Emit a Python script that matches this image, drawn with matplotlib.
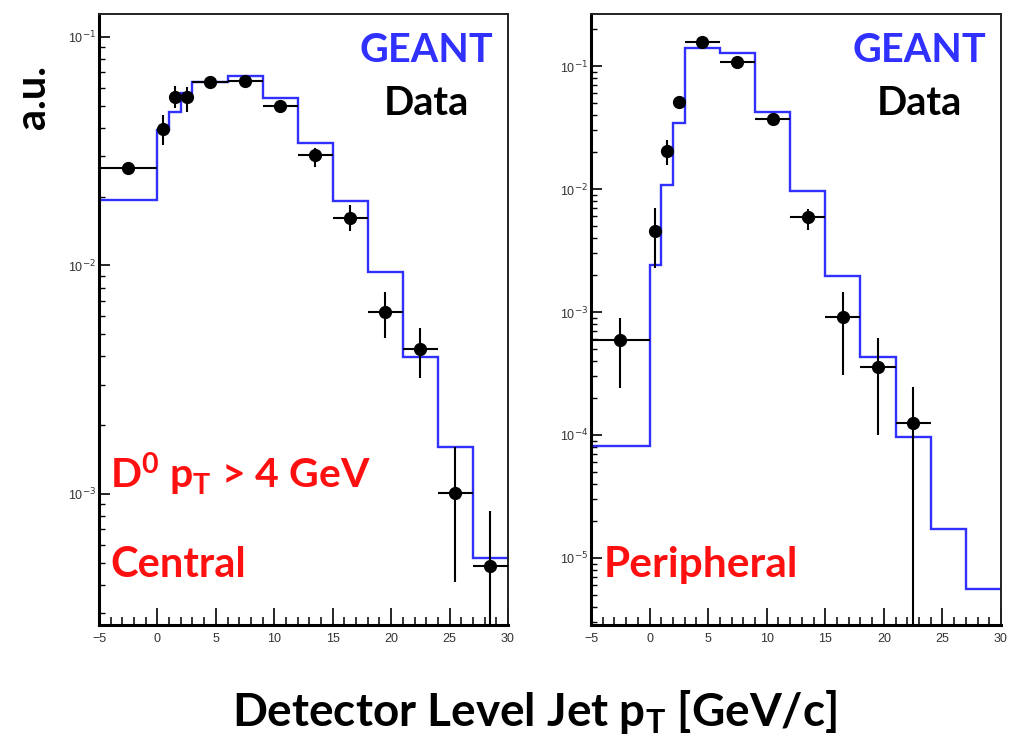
import numpy as np
import matplotlib
matplotlib.use("Agg")
import matplotlib.pyplot as plt
from matplotlib.ticker import FixedLocator, NullFormatter, MultipleLocator

# ---------------- data ----------------
bin_edges = [-5, 0, 1, 2, 3, 6, 9, 12, 15, 18, 21, 24, 27, 30]
data_x = [-2.5, 0.5, 1.5, 2.5, 4.5, 7.5, 10.5, 13.5, 16.5, 19.5, 22.5, 25.5, 28.5]
data_xlo = [2.5, 0.5, 0.5, 0.5, 1.5, 1.5, 1.5, 1.5, 1.5, 1.5, 1.5, 1.5, 1.5]

# Central
central_geant = [0.0194, 0.039, 0.0471, 0.0569, 0.0637, 0.0678, 0.0542, 0.0343,
                 0.0191, 0.00933, 0.00399, 0.0016, 0.000526]
central_data = [0.0266, 0.0394, 0.0548, 0.0548, 0.0634, 0.0644, 0.0499, 0.0303,
                0.0161, 0.00624, 0.00431, 0.00101, 0.000484]
central_hi = [0.0278, 0.0456, 0.0611, 0.0606, 0.0660, 0.0670, 0.0520, 0.0326,
              0.0184, 0.00767, 0.00533, 0.0016, 0.00084]
central_lo = [0.0253, 0.0337, 0.0489, 0.0471, 0.0610, 0.0620, 0.0463, 0.0270,
              0.0141, 0.00482, 0.00322, 0.000413, 0.0]

# Peripheral (last data bin is empty)
periph_geant = [8.19e-5, 0.00241, 0.0108, 0.0346, 0.141, 0.128, 0.0425, 0.00964,
                0.00196, 0.000427, 9.58e-5, 1.72e-5, 5.6e-6]
periph_x = data_x[:11]
periph_xlo = data_xlo[:11]
periph_data = [0.000591, 0.00456, 0.0204, 0.0513, 0.156, 0.107, 0.0371, 0.00596,
               0.000906, 0.000359, 0.000126]
periph_hi = [0.00089, 0.00702, 0.0251, 0.0563, 0.163, 0.112, 0.0388, 0.00694,
             0.00146, 0.00061, 0.000247]
periph_lo = [0.00024, 0.00228, 0.0157, 0.0453, 0.149, 0.102, 0.0355, 0.00464,
             0.000308, 0.0001, 0.0]

x_ticks = [-5, 0, 5, 10, 15, 20, 25, 30]
x_tick_labels = ["\u22125", "0", "5", "10", "15", "20", "25", "30"]

# ---------------- style ----------------
plt.rcParams['font.family'] = ['Lato', 'DejaVu Sans']
plt.rcParams['mathtext.fontset'] = 'custom'
plt.rcParams['mathtext.rm'] = 'Lato:bold'
plt.rcParams['mathtext.it'] = 'Lato:bold'
plt.rcParams['mathtext.bf'] = 'Lato:bold'

BLUE = '#3030ff'
RED = '#ff1010'

fig = plt.figure(figsize=(10.12, 7.4), dpi=100)
axL = fig.add_axes([99/1012, 1-625/740, 409/1012, 611/740])
axR = fig.add_axes([591/1012, 1-625/740, 410/1012, 611/740])


def draw_panel(ax, geant, xs, xlo, vals, hi, lo, ylim, decades):
    ax.set_yscale('log')
    ax.stairs(geant, bin_edges, color=BLUE, lw=1.7, baseline=None, zorder=2)
    vals = np.array(vals)
    hi = np.array(hi)
    lo = np.array(lo)
    lo = np.where(lo <= 0, 1e-9, lo)
    yerr = np.vstack([vals - lo, hi - vals])
    ax.errorbar(xs, vals, xerr=xlo, yerr=yerr, fmt='o', color='black',
                ms=8.5, elinewidth=1.5, capsize=0, zorder=3)
    ax.set_xlim(-5, 30)
    ax.set_ylim(*ylim)
    ax.set_xticks(x_ticks, x_tick_labels, fontsize=9, color='#333333',
                  family='Liberation Sans')
    ax.xaxis.set_minor_locator(MultipleLocator(1))
    ax.yaxis.set_major_locator(FixedLocator([10.0**d for d in decades]))
    ax.set_yticks([10.0**d for d in decades],
                  ["10$^{%d}$" % d for d in decades], fontsize=9,
                  color='#333333', family='Liberation Sans',
                  math_fontfamily='dejavusans')
    minors = [m * 10.0**d for d in range(min(decades) - 1, max(decades) + 1)
              for m in range(2, 10)]
    ax.yaxis.set_minor_locator(FixedLocator(minors))
    ax.yaxis.set_minor_formatter(NullFormatter())
    ax.set_ylim(*ylim)
    ax.tick_params(axis='x', which='major', direction='in', length=12, width=1.2,
                   top=False, pad=6)
    ax.tick_params(axis='x', which='minor', direction='in', length=6, width=1.1,
                   top=False)
    ax.tick_params(axis='y', which='major', direction='in', length=8, width=1.2,
                   right=False, pad=2)
    ax.tick_params(axis='y', which='minor', direction='in', length=4.5, width=1.0,
                   right=False)
    for s in ['left', 'bottom']:
        ax.spines[s].set_linewidth(2.2)
    for s in ['top', 'right']:
        ax.spines[s].set_linewidth(1.4)
        ax.spines[s].set_color('#222222')
    ax.text(0.80, (625-62)/611, 'GEANT', transform=ax.transAxes, color=BLUE,
            fontsize=28.5, fontweight='bold', ha='center', va='baseline')
    ax.text(0.80, (625-115)/611, 'Data', transform=ax.transAxes, color='black',
            fontsize=28.5, fontweight='bold', ha='center', va='baseline')


draw_panel(axL, central_geant, data_x, data_xlo, central_data, central_hi,
           central_lo, (2.67e-4, 0.126), [-3, -2, -1])
draw_panel(axR, periph_geant, periph_x, periph_xlo, periph_data, periph_hi,
           periph_lo, (2.85e-6, 0.265), [-5, -4, -3, -2, -1])

axL.text(0.028, (625-488)/611, r'D$^{0}$ p$_{\mathrm{T}}$ > 4 GeV', transform=axL.transAxes,
         color=RED, fontsize=29.5, fontweight='bold', ha='left', va='baseline')
axL.text(0.028, (625-577)/611, 'Central', transform=axL.transAxes,
         color=RED, fontsize=30, fontweight='bold', ha='left', va='baseline')
axR.text(0.03, (625-577)/611, 'Peripheral', transform=axR.transAxes,
         color=RED, fontsize=30.5, fontweight='bold', ha='left', va='baseline')

fig.text(33/1012, 1-97/740, 'a.u.', rotation=90, fontsize=30, fontweight='bold',
         ha='center', va='center')
fig.text(535/1012, 1-726/740, r'Detector Level Jet p$_{\mathrm{T}}$ [GeV/c]',
         fontsize=33, fontweight='bold', ha='center', va='baseline')

fig.savefig('out.png', dpi=100)
